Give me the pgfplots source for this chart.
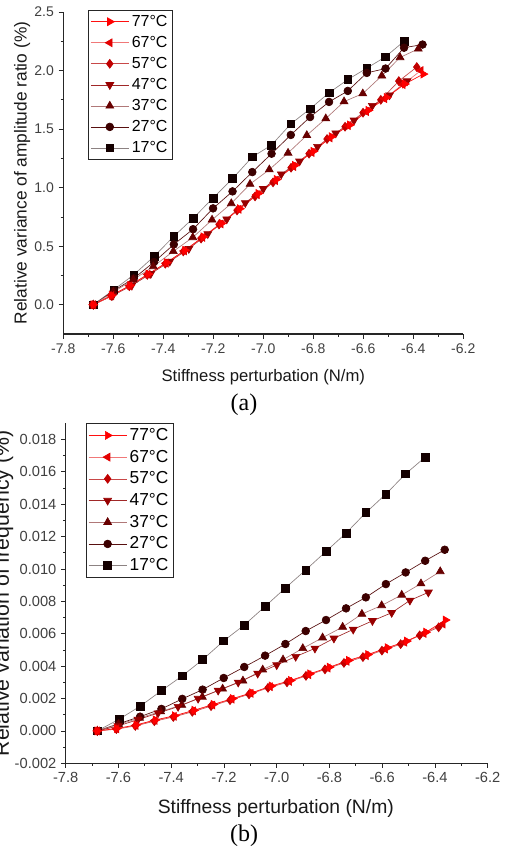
\documentclass[border=0pt]{standalone}
\usepackage{pgfplots}
\pgfplotsset{compat=1.18}
\usepackage{fontspec}
\setmainfont{Liberation Sans}
\newfontfamily\capfont{Liberation Serif}

\definecolor{m77}{HTML}{FF0000}\definecolor{l77}{HTML}{FF1010}
\definecolor{m67}{HTML}{E40000}\definecolor{l67}{HTML}{F07878}
\definecolor{m57}{HTML}{C00000}\definecolor{l57}{HTML}{C84848}
\definecolor{m47}{HTML}{980000}\definecolor{l47}{HTML}{A02828}
\definecolor{m37}{HTML}{680000}\definecolor{l37}{HTML}{B07878}
\definecolor{m27}{HTML}{3C0000}\definecolor{l27}{HTML}{581010}
\definecolor{m17}{HTML}{140000}\definecolor{l17}{HTML}{8C8282}

\pgfplotsset{
  panel/.style={
    scale only axis,
    xmin=-7.8, xmax=-6.2,
    xtick={-7.8,-7.6,-7.4,-7.2,-7.0,-6.8,-6.6,-6.4,-6.2},
    minor x tick num=1, minor y tick num=1,
    axis x line*=bottom, axis y line*=left,
    axis line style={-, line width=0.8pt, black!85},
    tick align=outside,
    major tick length=3.5pt, minor tick length=2pt,
    tick style={line width=0.6pt, black!85},
    x tick label style={/pgf/number format/.cd, fixed, fixed zerofill, precision=1},
    /pgf/number format/assume math mode=true,
    xlabel={Stiffness perturbation (N/m)},
    reverse legend,
    legend cell align=left,
    legend style={draw=black!85, line width=0.6pt,
      inner sep=1.5pt, anchor=north west},
    legend image code/.code={\draw[mark repeat=2, mark phase=2]
      plot coordinates {(0cm,0cm) (0.5cm,0cm) (1cm,0cm)};},
  },
  s77/.style={color=l77, line width=0.5pt, mark=triangle*, mark size=3.4pt, mark options={fill=m77, draw=m77, rotate=-90, solid}},
  s67/.style={color=l67, line width=0.5pt, mark=triangle*, mark size=3.4pt, mark options={fill=m67, draw=m67, rotate=90, solid}},
  s57/.style={color=l57, line width=0.5pt, mark=diamond*, mark size=3.3pt, mark options={fill=m57, draw=m57, solid}},
  s47/.style={color=l47, line width=0.5pt, mark=triangle*, mark size=3.4pt, mark options={fill=m47, draw=m47, rotate=180, solid}},
  s37/.style={color=l37, line width=0.5pt, mark=triangle*, mark size=3.4pt, mark options={fill=m37, draw=m37, solid}},
  s27/.style={color=l27, line width=0.5pt, mark=*, mark size=2.9pt, mark options={fill=m27, draw=m27, solid}},
  s17/.style={color=l17, line width=0.5pt, mark=square*, mark size=2.9pt, mark options={fill=m17, draw=m17, solid}},
}

\begin{document}
\begin{tikzpicture}
% ---------------- (a) ----------------
\begin{axis}[panel,
  at={(47.475pt,-250.5pt)}, anchor=south west,
  width=300pt, height=241.5pt,
  ymin=-0.25, ymax=2.5,
  ytick={0,0.5,1,1.5,2,2.5},
  y tick label style={/pgf/number format/.cd, fixed, fixed zerofill, precision=1},
  ticklabel style={font=\fontsize{10.5}{12}\selectfont, text=black!75},
  label style={font=\fontsize{13}{15}\selectfont, text=black!90},
  x label style={at={(axis description cs:0.5,-0.1326)}, anchor=center,
    font=\fontsize{12.5}{15}\selectfont},
  y label style={at={(axis description cs:-0.103,0.5)}, anchor=center},
  ylabel={Relative variance of amplitude ratio (\%)},
  legend style={at={(rel axis cs:0.062,1.006)}, font=\fontsize{12}{14}\selectfont, row sep=1.9pt},
]
\addplot[s17] coordinates {
 (-7.680,0) (-7.598,0.128) (-7.518,0.256) (-7.437,0.413) (-7.358,0.584) (-7.281,0.738)
 (-7.201,0.911) (-7.123,1.077) (-7.044,1.262) (-6.967,1.364) (-6.890,1.544) (-6.813,1.673)
 (-6.737,1.810) (-6.662,1.923) (-6.586,2.020) (-6.511,2.118) (-6.437,2.250)};
\addlegendentry{17°C}
\addplot[s27] coordinates {
 (-7.680,0) (-7.598,0.120) (-7.518,0.225) (-7.437,0.365) (-7.358,0.515) (-7.281,0.645)
 (-7.201,0.823) (-7.123,0.968) (-7.044,1.133) (-6.967,1.290) (-6.890,1.450) (-6.813,1.603)
 (-6.737,1.732) (-6.662,1.826) (-6.586,1.980) (-6.511,2.017) (-6.437,2.195) (-6.363,2.222)};
\addlegendentry{27°C}
\addplot[s37] coordinates {
 (-7.680,0) (-7.600,0.108) (-7.520,0.214) (-7.440,0.327) (-7.360,0.456) (-7.282,0.575)
 (-7.205,0.725) (-7.128,0.865) (-7.053,1.030) (-6.976,1.154) (-6.901,1.296) (-6.826,1.447)
 (-6.750,1.590) (-6.677,1.735) (-6.602,1.803) (-6.526,1.955) (-6.453,2.112) (-6.380,2.185)};
\addlegendentry{37°C}
\addplot[s47] coordinates {
 (-7.680,0) (-7.602,0.078) (-7.526,0.165) (-7.450,0.265) (-7.374,0.370) (-7.298,0.478)
 (-7.222,0.605) (-7.146,0.730) (-7.072,0.870) (-7.000,0.990) (-6.928,1.115) (-6.855,1.225)
 (-6.783,1.350) (-6.710,1.465) (-6.637,1.575) (-6.564,1.700) (-6.495,1.790) (-6.425,1.910)};
\addlegendentry{47°C}
\addplot[s57] coordinates {
 (-7.680,0) (-7.608,0.075) (-7.536,0.158) (-7.464,0.255) (-7.392,0.350) (-7.320,0.455)
 (-7.249,0.565) (-7.177,0.685) (-7.105,0.805) (-7.033,0.925) (-6.961,1.045) (-6.889,1.170)
 (-6.817,1.290) (-6.745,1.415) (-6.673,1.520) (-6.601,1.640) (-6.530,1.750) (-6.458,1.910)
 (-6.386,2.030)};
\addlegendentry{57°C}
\addplot[s67] coordinates {
 (-7.680,0) (-7.607,0.078) (-7.534,0.162) (-7.462,0.260) (-7.389,0.355) (-7.316,0.460)
 (-7.243,0.575) (-7.170,0.690) (-7.098,0.815) (-7.025,0.940) (-6.952,1.060) (-6.879,1.180)
 (-6.806,1.300) (-6.734,1.425) (-6.661,1.530) (-6.588,1.650) (-6.515,1.760) (-6.442,1.880)
 (-6.370,2.000)};
\addlegendentry{67°C}
\addplot[s77] coordinates {
 (-7.680,0) (-7.607,0.080) (-7.533,0.165) (-7.460,0.262) (-7.387,0.360) (-7.313,0.465)
 (-7.240,0.580) (-7.167,0.695) (-7.094,0.820) (-7.020,0.950) (-6.947,1.070) (-6.874,1.190)
 (-6.800,1.310) (-6.727,1.435) (-6.654,1.535) (-6.580,1.660) (-6.507,1.770) (-6.434,1.885)
 (-6.360,1.970)};
\addlegendentry{77°C}
\end{axis}
\node[font=\capfont\fontsize{18}{20}\selectfont] at (183pt,-303.75pt) {(a)};

% ---------------- (b) ----------------
\begin{axis}[panel,
  at={(49.275pt,-572.475pt)}, anchor=south west,
  width=316.5pt, height=255pt,
  ymin=-0.002, ymax=0.019,
  ytick={-0.002,0,0.002,0.004,0.006,0.008,0.010,0.012,0.014,0.016,0.018},
  scaled y ticks=false,
  y tick label style={/pgf/number format/.cd, fixed, fixed zerofill, precision=3},
  ticklabel style={font=\fontsize{11}{13}\selectfont, text=black!75},
  label style={text=black!90},
  x label style={at={(axis description cs:0.498,-0.1315)}, anchor=center,
    font=\fontsize{14.5}{17}\selectfont},
  y label style={at={(axis description cs:-0.148,0.5)}, anchor=center,
    font=\fontsize{16}{18}\selectfont},
  ylabel={Relative variation of frequency (\%)},
  legend style={at={(rel axis cs:0.048,1.0)}, font=\fontsize{13}{15}\selectfont, row sep=1.7pt},
]
\addplot[s17] coordinates {
 (-7.680,0) (-7.598,0.00072) (-7.518,0.00152) (-7.437,0.00249) (-7.358,0.00340) (-7.281,0.00440)
 (-7.201,0.00556) (-7.123,0.00654) (-7.044,0.00769) (-6.967,0.00883) (-6.890,0.00994) (-6.813,0.01109)
 (-6.737,0.01222) (-6.662,0.01348) (-6.586,0.01463) (-6.511,0.01588) (-6.437,0.01691)};
\addlegendentry{17°C}
\addplot[s27] coordinates {
 (-7.680,0) (-7.598,0.00045) (-7.518,0.00088) (-7.437,0.00136) (-7.358,0.00198) (-7.281,0.00255)
 (-7.201,0.00327) (-7.123,0.00395) (-7.044,0.00465) (-6.967,0.00537) (-6.890,0.00617) (-6.813,0.00685)
 (-6.737,0.00757) (-6.662,0.00825) (-6.586,0.00907) (-6.511,0.00979) (-6.437,0.01051) (-6.363,0.01119)};
\addlegendentry{27°C}
\addplot[s37] coordinates {
 (-7.680,0) (-7.600,0.00040) (-7.520,0.00080) (-7.440,0.00120) (-7.360,0.00160) (-7.282,0.00210)
 (-7.205,0.00260) (-7.128,0.00310) (-7.053,0.00378) (-6.976,0.00440) (-6.901,0.00510) (-6.826,0.00576)
 (-6.750,0.00642) (-6.677,0.00722) (-6.602,0.00775) (-6.526,0.00840) (-6.453,0.00910) (-6.380,0.00985)};
\addlegendentry{37°C}
\addplot[s47] coordinates {
 (-7.680,0) (-7.602,0.00030) (-7.526,0.00070) (-7.450,0.00110) (-7.374,0.00150) (-7.298,0.00200)
 (-7.222,0.00250) (-7.146,0.00300) (-7.072,0.00355) (-7.000,0.00407) (-6.928,0.00459) (-6.855,0.00510)
 (-6.783,0.00572) (-6.710,0.00627) (-6.637,0.00680) (-6.564,0.00730) (-6.495,0.00806) (-6.425,0.00856)};
\addlegendentry{47°C}
\addplot[s57] coordinates {
 (-7.680,0) (-7.608,0.00011) (-7.536,0.00031) (-7.464,0.00060) (-7.392,0.00086) (-7.320,0.00118)
 (-7.249,0.00153) (-7.177,0.00190) (-7.105,0.00226) (-7.033,0.00266) (-6.961,0.00300) (-6.889,0.00340)
 (-6.817,0.00380) (-6.745,0.00420) (-6.673,0.00456) (-6.601,0.00496) (-6.530,0.00536) (-6.458,0.00590)
 (-6.386,0.00640)};
\addlegendentry{57°C}
\addplot[s67] coordinates {
 (-7.680,0) (-7.607,0.00013) (-7.534,0.00034) (-7.462,0.00065) (-7.389,0.00090) (-7.316,0.00124)
 (-7.243,0.00160) (-7.170,0.00196) (-7.098,0.00232) (-7.025,0.00273) (-6.952,0.00306) (-6.879,0.00347)
 (-6.806,0.00388) (-6.734,0.00430) (-6.661,0.00465) (-6.588,0.00506) (-6.515,0.00548) (-6.442,0.00602)
 (-6.370,0.00660)};
\addlegendentry{67°C}
\addplot[s77] coordinates {
 (-7.680,0) (-7.607,0.00015) (-7.533,0.00037) (-7.460,0.00068) (-7.387,0.00094) (-7.313,0.00128)
 (-7.240,0.00164) (-7.167,0.00200) (-7.094,0.00236) (-7.020,0.00278) (-6.947,0.00312) (-6.874,0.00353)
 (-6.800,0.00394) (-6.727,0.00436) (-6.654,0.00472) (-6.580,0.00514) (-6.507,0.00555) (-6.434,0.00610)
 (-6.360,0.00685)};
\addlegendentry{77°C}
\end{axis}
\node[font=\capfont\fontsize{18}{20}\selectfont] at (183pt,-627pt) {(b)};

\pgfresetboundingbox
\path[use as bounding box] (0pt,0pt) rectangle (378.75pt,-635.25pt);
\end{tikzpicture}
\end{document}
